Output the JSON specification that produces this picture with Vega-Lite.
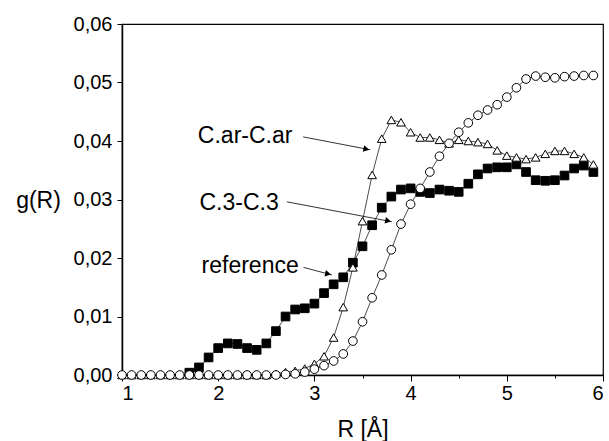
{
  "$schema": "https://vega.github.io/schema/vega-lite/v6.json",
  "autosize": "none",
  "width": 481,
  "height": 351,
  "padding": {"left": 122, "top": 24, "right": 6, "bottom": 66},
  "background": "white",
  "datasets": {
    "curves": [
      {"series": "reference", "R": 1.7, "g": 0.0004},
      {"series": "reference", "R": 1.8, "g": 0.0013},
      {"series": "reference", "R": 1.9, "g": 0.0030},
      {"series": "reference", "R": 2.0, "g": 0.0046},
      {"series": "reference", "R": 2.1, "g": 0.0054},
      {"series": "reference", "R": 2.2, "g": 0.0053},
      {"series": "reference", "R": 2.3, "g": 0.0046},
      {"series": "reference", "R": 2.4, "g": 0.0043},
      {"series": "reference", "R": 2.5, "g": 0.0054},
      {"series": "reference", "R": 2.6, "g": 0.0075},
      {"series": "reference", "R": 2.7, "g": 0.0100},
      {"series": "reference", "R": 2.8, "g": 0.0112},
      {"series": "reference", "R": 2.9, "g": 0.0114},
      {"series": "reference", "R": 3.0, "g": 0.0122},
      {"series": "reference", "R": 3.1, "g": 0.0140},
      {"series": "reference", "R": 3.2, "g": 0.0155},
      {"series": "reference", "R": 3.3, "g": 0.0167},
      {"series": "reference", "R": 3.4, "g": 0.0192},
      {"series": "reference", "R": 3.5, "g": 0.0220},
      {"series": "reference", "R": 3.6, "g": 0.0256},
      {"series": "reference", "R": 3.7, "g": 0.0286},
      {"series": "reference", "R": 3.8, "g": 0.0305},
      {"series": "reference", "R": 3.9, "g": 0.0317},
      {"series": "reference", "R": 4.0, "g": 0.0319},
      {"series": "reference", "R": 4.1, "g": 0.0313},
      {"series": "reference", "R": 4.2, "g": 0.0311},
      {"series": "reference", "R": 4.3, "g": 0.0317},
      {"series": "reference", "R": 4.4, "g": 0.0315},
      {"series": "reference", "R": 4.5, "g": 0.0313},
      {"series": "reference", "R": 4.6, "g": 0.0327},
      {"series": "reference", "R": 4.7, "g": 0.0343},
      {"series": "reference", "R": 4.8, "g": 0.0353},
      {"series": "reference", "R": 4.9, "g": 0.0355},
      {"series": "reference", "R": 5.0, "g": 0.0355},
      {"series": "reference", "R": 5.1, "g": 0.0360},
      {"series": "reference", "R": 5.2, "g": 0.0347},
      {"series": "reference", "R": 5.3, "g": 0.0333},
      {"series": "reference", "R": 5.4, "g": 0.0332},
      {"series": "reference", "R": 5.5, "g": 0.0333},
      {"series": "reference", "R": 5.6, "g": 0.0341},
      {"series": "reference", "R": 5.7, "g": 0.0353},
      {"series": "reference", "R": 5.8, "g": 0.0358},
      {"series": "reference", "R": 5.9, "g": 0.0347},
      {"series": "C.ar-C.ar", "R": 1.0, "g": 0.0},
      {"series": "C.ar-C.ar", "R": 1.1, "g": 0.0},
      {"series": "C.ar-C.ar", "R": 1.2, "g": 0.0},
      {"series": "C.ar-C.ar", "R": 1.3, "g": 0.0},
      {"series": "C.ar-C.ar", "R": 1.4, "g": 0.0},
      {"series": "C.ar-C.ar", "R": 1.5, "g": 0.0},
      {"series": "C.ar-C.ar", "R": 1.6, "g": 0.0},
      {"series": "C.ar-C.ar", "R": 1.7, "g": 0.0},
      {"series": "C.ar-C.ar", "R": 1.8, "g": 0.0},
      {"series": "C.ar-C.ar", "R": 1.9, "g": 0.0},
      {"series": "C.ar-C.ar", "R": 2.0, "g": 0.0},
      {"series": "C.ar-C.ar", "R": 2.1, "g": 0.0},
      {"series": "C.ar-C.ar", "R": 2.2, "g": 0.0},
      {"series": "C.ar-C.ar", "R": 2.3, "g": 0.0},
      {"series": "C.ar-C.ar", "R": 2.4, "g": 0.0},
      {"series": "C.ar-C.ar", "R": 2.5, "g": 0.0},
      {"series": "C.ar-C.ar", "R": 2.6, "g": 0.0002},
      {"series": "C.ar-C.ar", "R": 2.7, "g": 0.0005},
      {"series": "C.ar-C.ar", "R": 2.8, "g": 0.0007},
      {"series": "C.ar-C.ar", "R": 2.9, "g": 0.0011},
      {"series": "C.ar-C.ar", "R": 3.0, "g": 0.0019},
      {"series": "C.ar-C.ar", "R": 3.1, "g": 0.0032},
      {"series": "C.ar-C.ar", "R": 3.2, "g": 0.0064},
      {"series": "C.ar-C.ar", "R": 3.3, "g": 0.0116},
      {"series": "C.ar-C.ar", "R": 3.4, "g": 0.0184},
      {"series": "C.ar-C.ar", "R": 3.5, "g": 0.0263},
      {"series": "C.ar-C.ar", "R": 3.6, "g": 0.0342},
      {"series": "C.ar-C.ar", "R": 3.7, "g": 0.0404},
      {"series": "C.ar-C.ar", "R": 3.8, "g": 0.0436},
      {"series": "C.ar-C.ar", "R": 3.9, "g": 0.0432},
      {"series": "C.ar-C.ar", "R": 4.0, "g": 0.0415},
      {"series": "C.ar-C.ar", "R": 4.1, "g": 0.0406},
      {"series": "C.ar-C.ar", "R": 4.2, "g": 0.0406},
      {"series": "C.ar-C.ar", "R": 4.3, "g": 0.0402},
      {"series": "C.ar-C.ar", "R": 4.4, "g": 0.0396},
      {"series": "C.ar-C.ar", "R": 4.5, "g": 0.0402},
      {"series": "C.ar-C.ar", "R": 4.6, "g": 0.0400},
      {"series": "C.ar-C.ar", "R": 4.7, "g": 0.0398},
      {"series": "C.ar-C.ar", "R": 4.8, "g": 0.0395},
      {"series": "C.ar-C.ar", "R": 4.9, "g": 0.0384},
      {"series": "C.ar-C.ar", "R": 5.0, "g": 0.0375},
      {"series": "C.ar-C.ar", "R": 5.1, "g": 0.0372},
      {"series": "C.ar-C.ar", "R": 5.2, "g": 0.0369},
      {"series": "C.ar-C.ar", "R": 5.3, "g": 0.0372},
      {"series": "C.ar-C.ar", "R": 5.4, "g": 0.0378},
      {"series": "C.ar-C.ar", "R": 5.5, "g": 0.0383},
      {"series": "C.ar-C.ar", "R": 5.6, "g": 0.0383},
      {"series": "C.ar-C.ar", "R": 5.7, "g": 0.0378},
      {"series": "C.ar-C.ar", "R": 5.8, "g": 0.0372},
      {"series": "C.ar-C.ar", "R": 5.9, "g": 0.0360},
      {"series": "C.3-C.3", "R": 1.0, "g": 0.0},
      {"series": "C.3-C.3", "R": 1.1, "g": 0.0},
      {"series": "C.3-C.3", "R": 1.2, "g": 0.0},
      {"series": "C.3-C.3", "R": 1.3, "g": 0.0},
      {"series": "C.3-C.3", "R": 1.4, "g": 0.0},
      {"series": "C.3-C.3", "R": 1.5, "g": 0.0},
      {"series": "C.3-C.3", "R": 1.6, "g": 0.0},
      {"series": "C.3-C.3", "R": 1.7, "g": 0.0},
      {"series": "C.3-C.3", "R": 1.8, "g": 0.0},
      {"series": "C.3-C.3", "R": 1.9, "g": 0.0},
      {"series": "C.3-C.3", "R": 2.0, "g": 0.0},
      {"series": "C.3-C.3", "R": 2.1, "g": 0.0},
      {"series": "C.3-C.3", "R": 2.2, "g": 0.0},
      {"series": "C.3-C.3", "R": 2.3, "g": 0.0},
      {"series": "C.3-C.3", "R": 2.4, "g": 0.0},
      {"series": "C.3-C.3", "R": 2.5, "g": 0.0},
      {"series": "C.3-C.3", "R": 2.6, "g": 0.0},
      {"series": "C.3-C.3", "R": 2.7, "g": 0.0001},
      {"series": "C.3-C.3", "R": 2.8, "g": 0.0002},
      {"series": "C.3-C.3", "R": 2.9, "g": 0.0005},
      {"series": "C.3-C.3", "R": 3.0, "g": 0.0010},
      {"series": "C.3-C.3", "R": 3.1, "g": 0.0016},
      {"series": "C.3-C.3", "R": 3.2, "g": 0.0024},
      {"series": "C.3-C.3", "R": 3.3, "g": 0.0036},
      {"series": "C.3-C.3", "R": 3.4, "g": 0.0058},
      {"series": "C.3-C.3", "R": 3.5, "g": 0.0091},
      {"series": "C.3-C.3", "R": 3.6, "g": 0.0132},
      {"series": "C.3-C.3", "R": 3.7, "g": 0.0171},
      {"series": "C.3-C.3", "R": 3.8, "g": 0.0214},
      {"series": "C.3-C.3", "R": 3.9, "g": 0.0258},
      {"series": "C.3-C.3", "R": 4.0, "g": 0.0292},
      {"series": "C.3-C.3", "R": 4.1, "g": 0.0319},
      {"series": "C.3-C.3", "R": 4.2, "g": 0.0347},
      {"series": "C.3-C.3", "R": 4.3, "g": 0.0374},
      {"series": "C.3-C.3", "R": 4.4, "g": 0.0396},
      {"series": "C.3-C.3", "R": 4.5, "g": 0.0415},
      {"series": "C.3-C.3", "R": 4.6, "g": 0.0431},
      {"series": "C.3-C.3", "R": 4.7, "g": 0.0444},
      {"series": "C.3-C.3", "R": 4.8, "g": 0.0453},
      {"series": "C.3-C.3", "R": 4.9, "g": 0.0462},
      {"series": "C.3-C.3", "R": 5.0, "g": 0.0475},
      {"series": "C.3-C.3", "R": 5.1, "g": 0.0491},
      {"series": "C.3-C.3", "R": 5.2, "g": 0.0506},
      {"series": "C.3-C.3", "R": 5.3, "g": 0.0511},
      {"series": "C.3-C.3", "R": 5.4, "g": 0.0509},
      {"series": "C.3-C.3", "R": 5.5, "g": 0.0508},
      {"series": "C.3-C.3", "R": 5.6, "g": 0.0510},
      {"series": "C.3-C.3", "R": 5.7, "g": 0.0511},
      {"series": "C.3-C.3", "R": 5.8, "g": 0.0512},
      {"series": "C.3-C.3", "R": 5.9, "g": 0.0512}
    ],
    "labels": [
      {"label": "C.ar-C.ar", "R": 2.28, "g": 0.0396},
      {"label": "C.3-C.3", "R": 2.217, "g": 0.0282},
      {"label": "reference", "R": 2.332, "g": 0.01749}
    ],
    "arrows": [
      {"label": "C.ar-C.ar", "R": 2.883, "g": 0.0407, "R2": 3.581, "g2": 0.0385},
      {"label": "C.3-C.3", "R": 2.714, "g": 0.0296, "R2": 3.806, "g2": 0.0262},
      {"label": "reference", "R": 2.887, "g": 0.0184, "R2": 3.182, "g2": 0.0171}
    ],
    "heads": [
      {"label": "C.ar-C.ar", "R": 3.540, "g": 0.0386},
      {"label": "C.3-C.3", "R": 3.766, "g": 0.02634},
      {"label": "reference", "R": 3.142, "g": 0.01728}
    ]
  },
  "layer": [
    {
      "data": {"name": "curves"},
      "mark": {"type": "line", "color": "black", "strokeWidth": 0.7},
      "encoding": {
        "x": {"field": "R", "type": "quantitative", "scale": {"domain": [1, 6], "nice": false, "zero": false},
              "axis": {"orient": "bottom", "values": [1, 1.5, 2, 2.5, 3, 3.5, 4, 4.5, 5, 5.5, 6],
                       "labelExpr": "datum.value % 1 === 0 ? format(datum.value, 'd') : ''",
                       "tickSize": {"condition": {"test": "datum.value % 1 !== 0", "value": 3}, "value": 6},
                       "title": "R [Å]", "titleY": 54, "titleBaseline": "middle", "labelPadding": 2}},
        "y": {"field": "g", "type": "quantitative", "scale": {"domain": [0, 0.06], "nice": false},
              "axis": {"orient": "left", "values": [0, 0.005, 0.01, 0.015, 0.02, 0.025, 0.03, 0.035, 0.04, 0.045, 0.05, 0.055, 0.06],
                       "labelExpr": "round(datum.value * 1000) % 10 === 0 ? replace(format(datum.value, '.2f'), '.', ',') : ''",
                       "tickSize": {"condition": {"test": "round(datum.value * 1000) % 10 !== 0", "value": 3}, "value": 5},
                       "title": "g(R)", "titleAngle": 0, "titleX": -84, "titleY": 176, "titleAlign": "center", "titleBaseline": "middle", "labelPadding": 5}},
        "detail": {"field": "series"}
      }
    },
    {
      "data": {"name": "curves"},
      "mark": {"type": "point", "filled": true, "stroke": "black", "strokeWidth": 1, "opacity": 1},
      "encoding": {
        "x": {"field": "R", "type": "quantitative"},
        "y": {"field": "g", "type": "quantitative"},
        "shape": {"field": "series", "type": "nominal", "scale": {"domain": ["reference", "C.ar-C.ar", "C.3-C.3"], "range": ["square", "triangle-up", "circle"]}, "legend": null},
        "fill": {"field": "series", "type": "nominal", "scale": {"domain": ["reference", "C.ar-C.ar", "C.3-C.3"], "range": ["black", "white", "white"]}, "legend": null},
        "size": {"value": 75}
      }
    },
    {
      "data": {"name": "labels"},
      "mark": {"type": "text", "fontSize": 23, "font": "Liberation Sans", "align": "center", "baseline": "alphabetic", "color": "black"},
      "encoding": {
        "x": {"field": "R", "type": "quantitative"},
        "y": {"field": "g", "type": "quantitative"},
        "text": {"field": "label"}
      }
    },
    {
      "data": {"name": "arrows"},
      "mark": {"type": "rule", "color": "black", "strokeWidth": 0.8},
      "encoding": {
        "x": {"field": "R", "type": "quantitative"},
        "y": {"field": "g", "type": "quantitative"},
        "x2": {"field": "R2"},
        "y2": {"field": "g2"}
      }
    },
    {
      "data": {"name": "heads"},
      "mark": {"type": "point", "shape": "triangle-right", "filled": true, "color": "black", "size": 45, "angle": 12, "opacity": 1},
      "encoding": {
        "x": {"field": "R", "type": "quantitative"},
        "y": {"field": "g", "type": "quantitative"}
      }
    }
  ],
  "config": {
    "view": {"stroke": "black", "strokeWidth": 1.2},
    "font": "Liberation Sans",
    "axis": {
      "grid": false,
      "domainColor": "black",
      "domainWidth": 1.5,
      "tickColor": "black",
      "tickWidth": 1,
      "labelColor": "black",
      "labelFont": "Liberation Sans",
      "labelFontSize": 20,
      "titleColor": "black",
      "titleFont": "Liberation Sans",
      "titleFontSize": 23,
      "titleFontWeight": "normal"
    }
  }
}
